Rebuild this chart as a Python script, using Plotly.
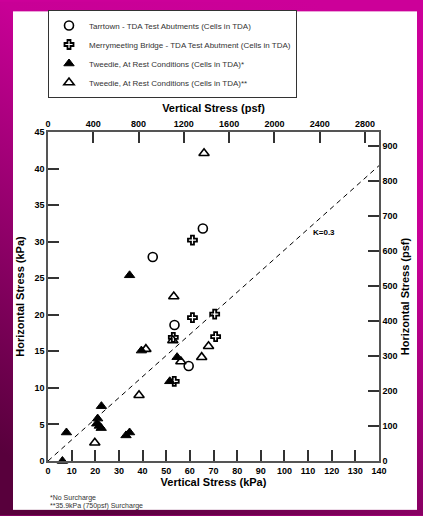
import base64
import plotly.graph_objects as go

KPA_TO_PSF = 20.885

# --- data (kPa) ---
tarr_x = [44.3, 65.5, 53.5, 59.5]
tarr_y = [27.9, 31.8, 18.6, 13.0]

merry_x = [61.1, 61.1, 70.5, 53.0, 70.9, 53.4]
merry_y = [30.2, 19.6, 20.1, 16.9, 17.0, 10.9]

twd_ns_x = [34.5, 51.5, 54.6, 39.5, 22.6, 21.0, 20.6, 21.7, 22.5, 33.0, 34.5, 7.8, 6.1]
twd_ns_y = [25.4, 10.9, 14.2, 15.1, 7.5, 5.8, 5.1, 4.8, 4.5, 3.5, 3.9, 3.9, 0.0]

twd_s_x = [66.0, 53.2, 52.8, 67.9, 65.0, 56.2, 41.4, 38.5, 19.8]
twd_s_y = [42.1, 22.5, 16.5, 15.7, 14.2, 13.6, 15.3, 9.0, 2.5]

k_line_x = [0, 140]
k_line_y = [0, 40.4]

x_range = [0, 140]
y_range = [0, 45]

W, H = 423, 516
ML, MR, MT, MB = 48, 44, 131, 55
PW, PH = W - ML - MR, H - MT - MB

FONT = "Arial, Liberation Sans, sans-serif"

svg = f'''<svg xmlns="http://www.w3.org/2000/svg" width="{W}" height="{H}" viewBox="0 0 {W} {H}" preserveAspectRatio="none">
<defs><linearGradient id="g" x1="0.75" y1="0" x2="0.25" y2="1">
<stop offset="0" stop-color="#CC0099"/>
<stop offset="0.3" stop-color="#C80096"/>
<stop offset="1" stop-color="#58003C"/>
</linearGradient></defs>
<rect x="0" y="0" width="{W}" height="{H}" fill="url(#g)"/>
<rect x="13" y="10" width="404" height="500" fill="#FFFFFF"/>
</svg>'''
bg_src = "data:image/svg+xml;base64," + base64.b64encode(svg.encode()).decode()

fig = go.Figure()

fig.add_trace(go.Scatter(
    x=k_line_x, y=k_line_y, mode="lines",
    line=dict(color="black", width=1, dash="5px,4px"),
    showlegend=False, hoverinfo="skip"))

fig.add_trace(go.Scatter(
    x=tarr_x, y=tarr_y, mode="markers",
    name="Tarrtown - TDA Test Abutments (Cells in TDA)",
    marker=dict(symbol="circle-open", size=9, color="black", line=dict(width=1.6)),
    cliponaxis=False))

fig.add_trace(go.Scatter(
    x=merry_x, y=merry_y, mode="markers",
    name="Merrymeeting Bridge - TDA Test Abutment (Cells in TDA)",
    marker=dict(symbol="cross-open", size=7.5, color="black", line=dict(width=1.8)),
    cliponaxis=False))

fig.add_trace(go.Scatter(
    x=twd_ns_x, y=twd_ns_y, mode="markers",
    name="Tweedie, At Rest Conditions (Cells in TDA)*",
    marker=dict(symbol="triangle-up", size=9, color="black",
                line=dict(width=1, color="black")),
    cliponaxis=False))

fig.add_trace(go.Scatter(
    x=twd_s_x, y=twd_s_y, mode="markers",
    name="Tweedie, At Rest Conditions (Cells in TDA)**",
    marker=dict(symbol="triangle-up-open", size=9, color="black", line=dict(width=1.6)),
    cliponaxis=False))

# invisible trace to activate secondary axes
fig.add_trace(go.Scatter(
    x=[0], y=[0], xaxis="x2", yaxis="y2", mode="markers",
    marker=dict(opacity=0), showlegend=False, hoverinfo="skip"))

tickfont = dict(family=FONT, size=9, color="black", weight="bold")
titlefont = dict(family=FONT, size=11, color="black", weight="bold")
common = dict(showgrid=False, zeroline=False, showline=True, linecolor="#555",
              linewidth=1.5, ticks="inside", ticklen=11, tickwidth=1.5,
              tickcolor="#333", tickfont=tickfont, automargin=False)

fig.update_layout(
    width=W, height=H,
    margin=dict(l=ML, r=MR, t=MT, b=MB),
    paper_bgcolor="#CC0099",
    plot_bgcolor="rgba(0,0,0,0)",
    font=dict(family=FONT),
    images=[dict(source=bg_src, xref="paper", yref="paper",
                 x=-ML / PW, y=1 + MT / PH, sizex=W / PW, sizey=H / PH,
                 xanchor="left", yanchor="top", sizing="stretch", layer="below")],
    xaxis=dict(range=x_range, dtick=10, tick0=0,
               title=dict(text="Vertical Stress (kPa)", font=titlefont, standoff=2),
               **common),
    yaxis=dict(range=y_range, dtick=5, tick0=0,
               title=dict(text="Horizontal Stress (kPa)", font=titlefont, standoff=8),
               **common),
    xaxis2=dict(range=[x_range[0] * KPA_TO_PSF, x_range[1] * KPA_TO_PSF],
                dtick=400, tick0=0, overlaying="x", side="top", anchor="y",
                title=dict(text="Vertical Stress (psf)", font=titlefont, standoff=4),
                **common),
    yaxis2=dict(range=[y_range[0] * KPA_TO_PSF, y_range[1] * KPA_TO_PSF],
                dtick=100, tick0=0, overlaying="y", side="right", anchor="x",
                title=dict(text="Horizontal Stress (psf)", font=titlefont, standoff=5),
                **common),
    legend=dict(x=0, y=(H - MB - 10) / PH, xanchor="left", yanchor="top",
                xref="paper", yref="paper",
                bgcolor="white", bordercolor="#333", borderwidth=1,
                font=dict(family=FONT, size=8, color="#333"),
                itemwidth=30, tracegroupgap=0),
    annotations=[
        dict(x=116.7, y=31.3, xref="x", yref="y", text="K=0.3", showarrow=False,
             font=dict(family=FONT, size=8, color="black", weight="bold")),
        dict(x=0, y=(H - MB - 498) / PH, xref="paper", yref="paper",
             text="*No Surcharge", showarrow=False, xanchor="left", yanchor="middle",
             font=dict(family=FONT, size=7, color="#333")),
        dict(x=0, y=(H - MB - 506) / PH, xref="paper", yref="paper",
             text="**35.9kPa (750psf) Surcharge", showarrow=False, xanchor="left",
             yanchor="middle", font=dict(family=FONT, size=7, color="#333")),
    ],
)

fig.write_html("out.html", config={"displayModeBar": False},
               post_script="document.body.style.margin='0';document.body.style.overflow='hidden';")
